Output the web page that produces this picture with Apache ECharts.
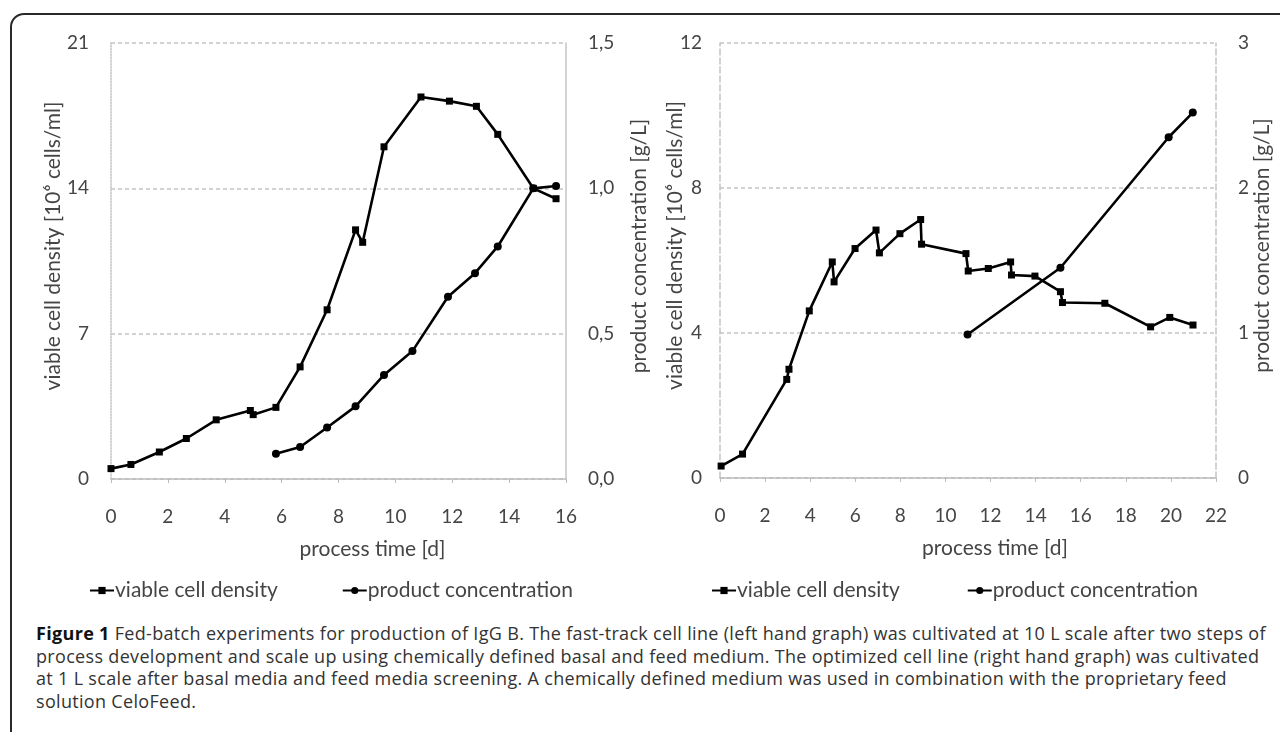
<!DOCTYPE html>
<html>
<head>
<meta charset="utf-8">
<title>Figure 1 - Fed-batch experiments IgG B</title>
<script src="https://cdn.jsdelivr.net/npm/echarts@6/dist/echarts.min.js"></script>
<style>
  html, body { margin: 0; padding: 0; background: #fff; overflow: hidden; }
  body { width: 1280px; height: 732px; position: relative; }
  #frame {
    position: absolute; left: 10px; top: 13px; width: 1300px; height: 760px;
    border: 2px solid #2a2a2a; border-top-left-radius: 14px; box-sizing: border-box;
  }
  #chart { position: absolute; left: 0; top: 0; width: 1280px; height: 610px; }
  #caption {
    position: absolute; left: 36px; top: 622px; white-space: nowrap;
    font-family: "Open Sans", sans-serif; font-size: 18px; letter-spacing: 0.32px;
    line-height: 22.5px; color: #333;
  }
  #caption b { color: #111; }
</style>
</head>
<body>
<div id="frame"></div>
<div id="chart"></div>
<div id="caption">
  <b>Figure 1</b> Fed-batch experiments for production of IgG B. The fast-track cell line (left hand graph) was cultivated at 10 L scale after two steps of<br>
  process development and scale up using chemically defined basal and feed medium. The optimized cell line (right hand graph) was cultivated<br>
  at 1 L scale after basal media and feed media screening. A chemically defined medium was used in combination with the proprietary feed<br>
  solution CeloFeed.
</div>
<script>
// 左图：快速细胞株 (10 L)
const leftVcdDays = [0, 0.7, 1.7, 2.65, 3.7, 4.9, 5.0, 5.8, 6.65, 7.6, 8.6, 8.85, 9.6, 10.9, 11.9, 12.85, 13.6, 14.85, 15.65]
const leftVcd = [0.5, 0.7, 1.3, 1.95, 2.85, 3.3, 3.1, 3.45, 5.4, 8.15, 12.0, 11.4, 16.0, 18.4, 18.2, 17.95, 16.6, 14.0, 13.5]
const leftProdDays = [5.8, 6.65, 7.6, 8.6, 9.6, 10.6, 11.85, 12.8, 13.6, 14.85, 15.65]
const leftProd = [0.087, 0.11, 0.177, 0.25, 0.358, 0.44, 0.627, 0.708, 0.80, 1.0, 1.008]

// 右图：优化细胞株 (1 L)
const rightVcdDays = [0.05, 1.0, 2.96, 3.06, 3.96, 4.98, 5.06, 5.99, 6.92, 7.07, 7.98, 8.9, 8.94, 10.91, 11.01, 11.9, 12.89, 12.93, 13.97, 15.1, 15.19, 17.07, 19.1, 19.95, 20.98]
const rightVcd = [0.33, 0.66, 2.72, 3.0, 4.61, 5.96, 5.41, 6.33, 6.84, 6.21, 6.74, 7.13, 6.45, 6.19, 5.71, 5.78, 5.96, 5.6, 5.57, 5.14, 4.84, 4.82, 4.17, 4.43, 4.22]
const rightProdDays = [10.98, 15.1, 19.9, 20.97]
const rightProd = [0.99, 1.45, 2.35, 2.52]

const leftXTicks = { min: 0, max: 16, interval: 2 }
const rightXTicks = { min: 0, max: 22, interval: 2 }
const leftVcdTicks = { min: 0, max: 21, interval: 7 }
const leftProdTicks = { min: 0, max: 1.5, interval: 0.5 }
const rightVcdTicks = { min: 0, max: 12, interval: 4 }
const rightProdTicks = { min: 0, max: 3, interval: 1 }

const seriesNames = ['viable cell density', 'product concentration']
const xName = 'process time [d]'
const vcdName = 'viable cell density [10\u2076 cells/ml]'
const prodName = 'product concentration [g/L]'

const zip = (xs, ys) => xs.map((x, i) => [x, ys[i]])

const FONT = 'Lato'
const TXT = '#454545'
const GRID = '#c4c4c4'

const labelStyle = { color: TXT, fontFamily: FONT, fontSize: 19 }
const nameStyle = { color: TXT, fontFamily: FONT, fontSize: 21 }

const xAxisBase = (ticks, padLeft) => ({
  type: 'value',
  min: ticks.min, max: ticks.max, interval: ticks.interval,
  name: xName,
  nameLocation: 'middle',
  nameGap: 60,
  nameTextStyle: { ...nameStyle, padding: [0, 0, 0, padLeft] },
  axisLine: { show: true, lineStyle: { color: '#bdbdbd', width: 1.5 } },
  axisTick: { show: true, length: 4, lineStyle: { color: '#bdbdbd' } },
  axisLabel: { ...labelStyle, margin: 28 },
  splitLine: { show: false }
})

// padding 左侧加宽让竖排标题整体上移
const yAxisBase = (ticks, pos, gridIndex, name, gap, lineType, fmt, margin) => ({
  type: 'value',
  gridIndex,
  position: pos,
  min: ticks.min, max: ticks.max, interval: ticks.interval,
  name,
  nameLocation: 'middle',
  nameRotate: 90,
  nameGap: gap,
  nameMoveOverlap: false,
  nameTextStyle: { ...nameStyle, padding: [0, 0, 0, 30] },
  axisLine: { show: true, lineStyle: { color: GRID, width: 1.5, type: lineType } },
  axisTick: { show: false },
  axisLabel: { ...labelStyle, margin, formatter: fmt },
  splitLine: pos === 'left' ? { show: true, lineStyle: { color: GRID, width: 1.5, type: [4, 3] } } : { show: false }
})

const lineSeries = (name, data, xi, yi, symbol, size) => ({
  name,
  type: 'line',
  xAxisIndex: xi,
  yAxisIndex: yi,
  data,
  symbol,
  symbolSize: size,
  showSymbol: true,
  lineStyle: { color: '#000', width: 2.6 },
  itemStyle: { color: '#000' },
  emphasis: { disabled: true },
  animation: false
})

const chart = echarts.init(document.getElementById('chart'))

const option = {
  animation: false,
  grid: [
    { left: 111, top: 43, width: 455, height: 436 },
    { left: 720, top: 43, width: 496, height: 435 }
  ],
  legend: [
    {
      data: seriesNames, left: 84, top: 575, itemGap: 64,
      itemWidth: 24, itemHeight: 9,
      textStyle: { ...nameStyle, padding: [0, 0, 0, -4] }
    },
    {
      data: seriesNames, left: 706, top: 575, itemGap: 67,
      itemWidth: 24, itemHeight: 9,
      textStyle: { ...nameStyle, padding: [0, 0, 0, -4] }
    }
  ],
  xAxis: [
    { ...xAxisBase(leftXTicks, 68), gridIndex: 0 },
    { ...xAxisBase(rightXTicks, 54), gridIndex: 1 }
  ],
  yAxis: [
    yAxisBase(leftVcdTicks, 'left', 0, vcdName, 47, 'dotted', v => v, 22),
    yAxisBase(leftProdTicks, 'right', 0, prodName, 63, 'solid', v => v.toFixed(1).replace('.', ','), 22),
    yAxisBase(rightVcdTicks, 'left', 1, vcdName, 34, 'dashed', v => v, 18),
    yAxisBase(rightProdTicks, 'right', 1, prodName, 36, 'dashed', v => v, 22)
  ],
  series: [
    lineSeries(seriesNames[0], zip(leftVcdDays, leftVcd), 0, 0, 'rect', 7),
    lineSeries(seriesNames[1], zip(leftProdDays, leftProd), 0, 1, 'circle', 8),
    lineSeries(seriesNames[0], zip(rightVcdDays, rightVcd), 1, 2, 'rect', 7),
    lineSeries(seriesNames[1], zip(rightProdDays, rightProd), 1, 3, 'circle', 8)
  ]
}

chart.setOption(option)
</script>
</body>
</html>
